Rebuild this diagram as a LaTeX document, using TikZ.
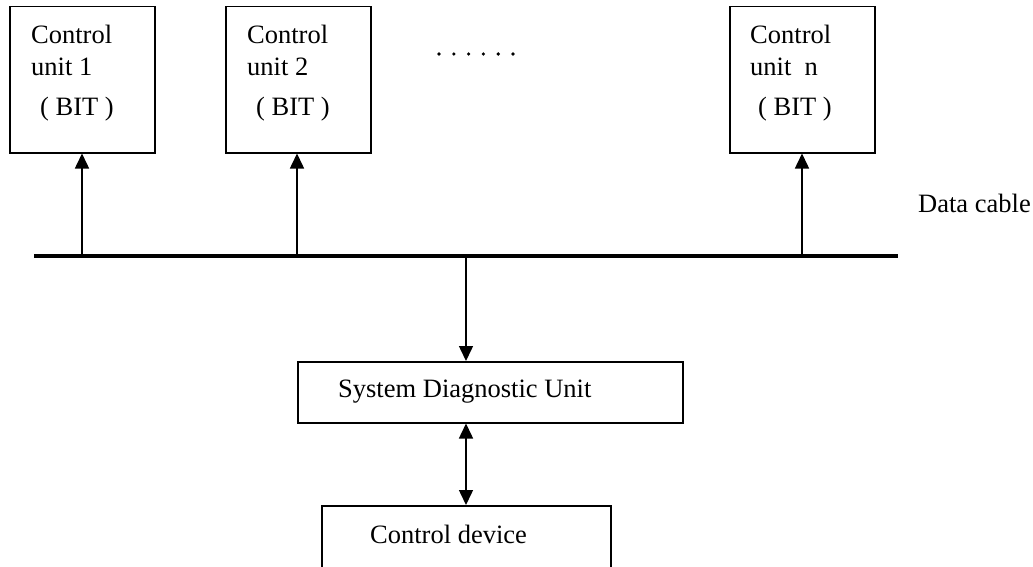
\documentclass[tikz,border=0pt]{standalone}
\usepackage{fontspec}
\setmainfont{Liberation Serif}
\usetikzlibrary{arrows.meta}
\begin{document}
\begin{tikzpicture}[x=1pt,y=-1pt,
  box/.style={draw,line width=1.5pt,inner sep=0pt,anchor=north west},
  lbl/.style={anchor=base west,inner sep=0pt,font=\fontsize{26.5}{30}\selectfont},
  conn/.style={line width=1.5pt,-{Triangle[width=14pt,length=15pt]}},
  dconn/.style={line width=1.5pt,{Triangle[width=14pt,length=15pt]}-{Triangle[width=14pt,length=15pt]}},
  dotn/.style={circle,fill=black,inner sep=0pt,minimum size=3.6pt}]
\useasboundingbox (0,0) rectangle (1033,567);
\clip (0,0) rectangle (1033,567);
% control units
\node[box,minimum width=145pt,minimum height=146pt] (cu1) at (9,6) {};
\node[box,minimum width=145pt,minimum height=146pt] (cu2) at (225,6) {};
\node[box,minimum width=145pt,minimum height=146pt] (cun) at (729,6) {};
\node[lbl] (t1a) at (31,44) {Control};
\node[lbl] (t1b) at (31,76) {unit 1};
\node[lbl] (t1c) at (40,116) {( BIT )};
\node[lbl] (t2a) at (247,44) {Control};
\node[lbl] (t2b) at (247,76) {unit 2};
\node[lbl] (t2c) at (256,116) {( BIT )};
\node[lbl] (tna) at (750,44) {Control};
\node[lbl] (tnb) at (750,76) {unit\hspace{0.5em}n};
\node[lbl] (tnc) at (758,116) {( BIT )};
% dots
\foreach \i in {0,...,5} \node[dotn] (d\i) at (439+\i*14.8,54) {};
% bus
\coordinate (busL) at (34,256);
\coordinate (busR) at (898,256);
\draw[line width=4.3pt] (busL) -- (busR);
\node[lbl] (data) at (918,212) {Data cable};
\coordinate (b1) at (82,256);
\coordinate (b2) at (297,256);
\coordinate (bn) at (802,256);
\coordinate (bs) at (466,256);
\draw[conn] (b1) -- (b1 |- cu1.south);
\draw[conn] (b2) -- (b2 |- cu2.south);
\draw[conn] (bn) -- (bn |- cun.south);
% system diagnostic unit
\node[box,minimum width=385pt,minimum height=61pt] (sdu) at (297,361) {};
\node[lbl] (sdut) at (338,397) {System Diagnostic Unit};
\draw[conn] (bs) -- (bs |- sdu.north);
% control device
\node[box,minimum width=289pt,minimum height=100pt] (cd) at (321,505) {};
\node[lbl] (cdt) at (370,543) {Control device};
\draw[dconn] (sdu.south -| bs) -- (cd.north -| bs);
\end{tikzpicture}
\end{document}
